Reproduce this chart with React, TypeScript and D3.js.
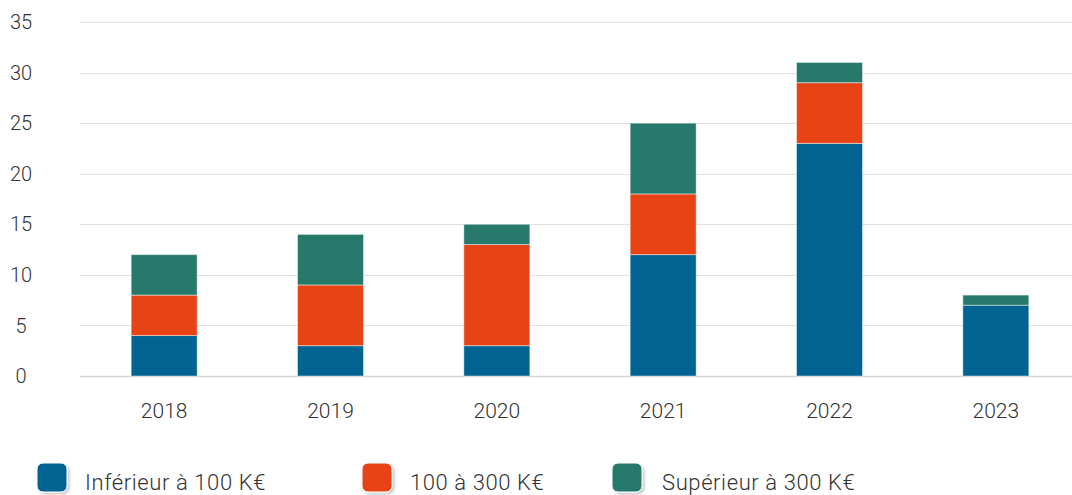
import React, { useEffect, useRef } from "react";
import * as d3 from "d3";

const years = ["2018", "2019", "2020", "2021", "2022", "2023"];
const seriesNames = ["Inférieur à 100 K€", "100 à 300 K€", "Supérieur à 300 K€"];
const below100 = [4, 3, 3, 12, 23, 7];
const from100to300 = [4, 6, 10, 6, 6, 0];
const above300 = [4, 5, 2, 7, 2, 1];
const yTicks = [0, 5, 10, 15, 20, 25, 30, 35];
const colors = ["#006391", "#e84315", "#26796b"];

export default function App() {
  const svgRef = useRef<SVGSVGElement | null>(null);

  useEffect(() => {
    const svg = d3.select(svgRef.current);
    svg.selectAll("*").remove();

    const width = 1072;
    const font = "Roboto, 'DejaVu Sans', sans-serif";
    const textColor = "#333333";

    const x = d3.scaleBand<string>().domain(years).range([81, 1079]);
    const y = d3.scaleLinear().domain([0, 35]).range([376, 22]);
    const barW = 66;

    const defs = svg.append("defs");
    const shadow = defs.append("filter").attr("id", "legend-shadow")
      .attr("x", "-30%").attr("y", "-30%").attr("width", "170%").attr("height", "170%");
    shadow.append("feDropShadow")
      .attr("dx", 2).attr("dy", 2).attr("stdDeviation", 1.5)
      .attr("flood-color", "#000").attr("flood-opacity", 0.22);

    // Grid
    svg.append("g")
      .selectAll("line")
      .data(yTicks)
      .join("line")
      .attr("x1", 80)
      .attr("x2", width)
      .attr("y1", (d) => Math.round(y(d)) + 0.5)
      .attr("y2", (d) => Math.round(y(d)) + 0.5)
      .attr("stroke", (d) => (d === 0 ? "#d4d4d4" : "#e0e0e0"))
      .attr("stroke-width", (d) => (d === 0 ? 1.5 : 1));

    // Y labels
    svg.append("g")
      .selectAll("text")
      .data(yTicks)
      .join("text")
      .attr("x", 21)
      .attr("y", (d) => y(d))
      .attr("dy", "0.36em")
      .attr("text-anchor", "middle")
      .attr("font-family", font)
      .attr("font-weight", 300)
      .attr("font-size", 20)
      .attr("fill", textColor)
      .text((d) => String(d));

    // Stacked bars
    const rows = years.map((yr, i) => ({
      year: yr,
      a: below100[i],
      b: from100to300[i],
      c: above300[i],
    }));
    const stack = d3.stack<any>().keys(["a", "b", "c"]);
    const layers = stack(rows);

    svg.append("g")
      .selectAll("g")
      .data(layers)
      .join("g")
      .attr("fill", (_, i) => colors[i])
      .selectAll("rect")
      .data((d) => d.filter((p) => p[1] - p[0] > 0))
      .join("rect")
      .attr("x", (d) => (x(d.data.year) as number) + x.bandwidth() / 2 - barW / 2)
      .attr("width", barW)
      .attr("y", (d) => y(d[1]))
      .attr("height", (d) => y(d[0]) - y(d[1]))
      .attr("stroke", "rgba(255,255,255,0.45)")
      .attr("stroke-width", 1);

    // X labels
    svg.append("g")
      .selectAll("text")
      .data(years)
      .join("text")
      .attr("x", (d) => (x(d) as number) + x.bandwidth() / 2)
      .attr("y", 418)
      .attr("text-anchor", "middle")
      .attr("font-family", font)
      .attr("font-weight", 300)
      .attr("font-size", 21)
      .attr("fill", textColor)
      .text((d) => d);

    // Legend
    const legendX = [37, 362, 612];
    const legendTextX = [85, 410, 662];
    const lg = svg.append("g")
      .selectAll("g")
      .data(seriesNames)
      .join("g");
    lg.append("rect")
      .attr("x", (_, i) => legendX[i])
      .attr("y", 463)
      .attr("width", 30)
      .attr("height", 29)
      .attr("rx", 6)
      .attr("fill", (_, i) => colors[i])
      .attr("stroke", "#fff")
      .attr("stroke-width", 1)
      .attr("filter", "url(#legend-shadow)");
    lg.append("text")
      .attr("x", (_, i) => legendTextX[i])
      .attr("y", 490)
      .attr("font-family", font)
      .attr("font-weight", 300)
      .attr("font-size", 22)
      .attr("letter-spacing", 0.6)
      .attr("fill", textColor)
      .text((d) => d);
  }, []);

  return (
    <svg
      ref={svgRef}
      width={1072}
      height={495}
      style={{ position: "absolute", left: 0, top: 0, background: "white" }}
    />
  );
}
